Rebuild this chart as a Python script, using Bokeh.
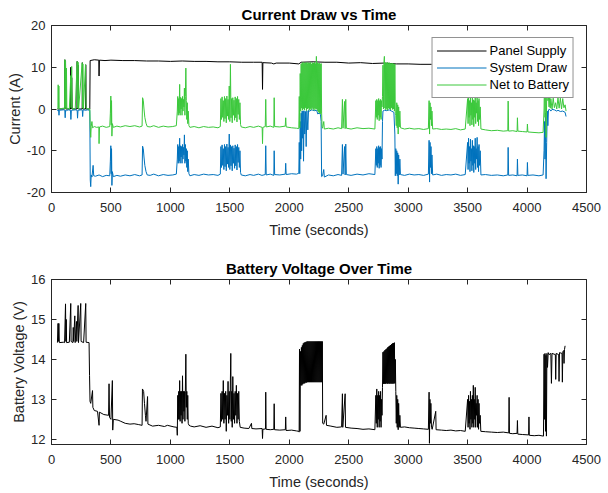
from bokeh.plotting import figure
from bokeh.layouts import column
from bokeh.models import Range1d, LinearAxis, FixedTicker, Legend, LegendItem
from bokeh.embed import file_html
from bokeh.resources import INLINE

FONT = "Liberation Sans"
INK = "#262626"

X_TICKS = [0, 500, 1000, 1500, 2000, 2500, 3000, 3500, 4000, 4500]
CURRENT_TICKS = [-20, -10, 0, 10, 20]
CURRENT_TICK_LABELS = ["-20", "-10", "0", "10", "20"]
VOLT_TICKS = [12, 13, 14, 15, 16]
VOLT_TICK_LABELS = ["12", "13", "14", "15", "16"]

SERIES_NAMES = ["Panel Supply", "System Draw", "Net to Battery"]
SERIES_COLORS = ["#000000", "#0072BD", "#3CC83C"]

# (time s, current A)
PANEL_SUPPLY = [
    (50, 0.0), (110, 0.0), (112, 11.8), (115, 0.0), (118, 11.5), (121, 0.0), (160, 0.0),
    (162, 10.0), (165, 0.0), (170, 7.5), (174, 0.0), (214, 0.0), (216, 11.4), (219, 0.0),
    (224, 10.5), (227, 0.0), (258, 0.0), (260, 11.1), (263, 0.0), (286, 0.0), (288, 10.6),
    (291, 0.0), (322, 0.0), (325, 11.6), (360, 11.8), (398, 11.7), (400, 7.9), (403, 11.7),
    (450, 11.6), (500, 11.7), (600, 11.6), (700, 11.6), (800, 11.5), (900, 11.5), (1000, 11.4),
    (1100, 11.5), (1200, 11.4), (1300, 11.4), (1400, 11.3), (1500, 11.3), (1600, 11.2),
    (1700, 11.2), (1772, 11.2), (1775, 4.7), (1778, 11.1), (1850, 11.0), (1870, 10.8),
    (1890, 11.0), (2000, 11.0), (2080, 10.8), (2100, 11.2), (2200, 11.3), (2300, 11.2),
    (2400, 11.2), (2500, 11.0), (2600, 11.1), (2700, 10.9), (2800, 11.0), (2900, 10.8),
    (3000, 10.8), (3100, 10.7), (3200, 10.7), (3400, 10.6), (3600, 10.6), (3800, 10.6),
    (4000, 10.5), (4200, 10.5), (4320, 10.5),
]

SYSTEM_DRAW = [
    (50, -0.3), (56, -0.5), (60, -0.2), (63, -1.5), (66, -0.3), (100, -0.2), (112, -0.3),
    (115, -2.1), (118, -0.3), (126, -0.4), (140, -0.2), (160, -0.3), (163, -2.5), (167, -0.3),
    (200, -0.2), (216, -0.3), (219, -2.2), (223, -0.3), (250, -0.2), (259, -0.3), (262, -1.8),
    (266, -0.2), (290, -0.3), (300, -0.2), (322, -0.3),
    (326, -17.0), (330, -18.6), (334, -15.8), (340, -16.3), (350, -13.5), (355, -16.0),
    (370, -16.1), (400, -15.8), (430, -16.2), (460, -15.9), (490, -16.0),
    (495, -12.5), (499, -8.8), (502, -15.5), (505, -9.5), (508, -18.3), (512, -15.0),
    (520, -16.2), (550, -15.9), (580, -16.1), (620, -15.8), (660, -16.0), (700, -15.7),
    (740, -16.0), (762, -15.8), (766, -8.9), (772, -9.5), (778, -11.5), (785, -13.5),
    (795, -15.0), (805, -15.8), (830, -15.9), (860, -15.6), (900, -16.0), (940, -15.7),
    (980, -15.9), (1020, -15.8), (1050, -15.6),
    (1058, -12.0), (1062, -8.5), (1066, -13.0), (1070, -9.0), (1074, -12.5), (1078, -7.0),
    (1082, -13.0), (1086, -8.8), (1090, -11.5), (1094, -9.0), (1098, -13.0), (1102, -8.5),
    (1106, -12.0), (1110, -9.2), (1114, -11.0), (1118, -6.2), (1122, -13.0), (1126, -8.5),
    (1130, -12.5), (1134, -9.5), (1138, -14.0), (1142, -10.0), (1146, -15.0), (1150, -12.0),
    (1156, -15.5), (1164, -16.0),
    (1200, -15.7), (1240, -15.9), (1280, -15.6), (1320, -15.8), (1360, -15.7), (1400, -15.9),
    (1420, -15.6),
    (1425, -9.0), (1430, -14.0), (1435, -8.6), (1440, -13.5), (1445, -9.5), (1450, -14.5),
    (1455, -8.5), (1460, -13.8), (1465, -9.0), (1470, -14.8), (1475, -8.4), (1480, -13.2),
    (1485, -9.2), (1490, -14.0), (1495, -6.0), (1500, -14.5), (1505, -8.6), (1510, -13.6),
    (1515, -9.0), (1520, -14.8), (1525, -8.8), (1530, -13.0), (1535, -9.4), (1540, -14.2),
    (1545, -8.6), (1550, -13.6), (1555, -9.0), (1560, -14.6), (1565, -8.5), (1570, -12.8),
    (1575, -9.2), (1580, -14.0), (1585, -10.0), (1590, -15.2), (1596, -15.8),
    (1630, -16.0), (1670, -15.7), (1700, -15.9), (1740, -15.6), (1770, -15.9), (1798, -15.7),
    (1802, -8.8), (1806, -15.8), (1840, -15.6), (1870, -15.9), (1873, -10.0), (1877, -15.7),
    (1920, -15.8), (1966, -15.6), (1970, -13.0), (1974, -15.7), (2020, -15.5), (2060, -15.6),
    (2080, -15.4),
    (2084, -8.0), (2088, -15.5), (2092, -3.0), (2096, -12.0), (2100, -1.0), (2104, -10.0),
    (2108, -0.5), (2112, -7.0), (2116, -0.5), (2120, -12.5), (2124, -0.4), (2130, -6.0),
    (2136, -0.6), (2142, -9.0), (2148, -0.4), (2156, -5.0), (2162, -0.3), (2170, -0.5),
    (2190, -0.2), (2210, -0.4), (2230, -0.3), (2240, -1.2), (2250, -1.0), (2262, -1.3),
    (2268, -3.0), (2272, -16.2),
    (2280, -16.0), (2290, -14.5), (2295, -16.3), (2330, -15.8), (2370, -16.0), (2410, -15.7),
    (2440, -15.9), (2447, -8.5), (2452, -15.6), (2465, -9.0), (2470, -15.8), (2475, -8.4),
    (2480, -15.7), (2520, -15.9), (2570, -15.6), (2620, -15.8), (2670, -15.5), (2720, -15.7),
    (2728, -9.5), (2732, -13.5), (2736, -9.0), (2740, -14.0), (2744, -9.5), (2748, -13.0),
    (2752, -8.8), (2756, -14.2), (2760, -9.2), (2764, -13.5), (2768, -9.0), (2772, -14.0),
    (2776, -9.5), (2780, -12.0),
    (2784, -3.0), (2788, -0.5), (2800, -0.3), (2820, -0.4), (2840, -0.2), (2860, -0.5),
    (2880, -0.8), (2888, -6.0), (2892, -16.0),
    (2896, -9.5), (2900, -15.5), (2904, -10.0), (2908, -16.0), (2912, -10.5), (2916, -18.0),
    (2920, -11.0), (2925, -15.8), (2930, -12.0), (2935, -15.7),
    (2970, -15.9), (3010, -15.6), (3050, -15.8), (3090, -15.7), (3130, -15.9), (3170, -15.6),
    (3176, -7.5), (3180, -17.5), (3184, -8.0), (3188, -14.0), (3192, -9.0), (3196, -15.5),
    (3200, -11.0), (3206, -15.8), (3240, -15.6), (3280, -15.9), (3320, -15.7), (3360, -15.8),
    (3400, -15.6), (3440, -15.9), (3480, -15.7),
    (3500, -8.0), (3504, -14.5), (3508, -7.0), (3512, -13.0), (3516, -9.0), (3520, -15.0),
    (3524, -7.2), (3528, -12.5), (3532, -9.5), (3536, -14.8), (3540, -7.5), (3544, -13.5),
    (3548, -8.8), (3552, -15.2), (3556, -9.0), (3560, -13.0), (3564, -7.0), (3568, -14.5),
    (3572, -9.5), (3576, -12.0), (3580, -6.8), (3584, -14.0), (3588, -9.0), (3592, -15.0),
    (3596, -8.5), (3600, -13.5), (3606, -10.0), (3612, -15.8),
    (3650, -15.7), (3700, -15.9), (3750, -15.8), (3800, -16.0), (3838, -15.8), (3841, -9.2),
    (3845, -15.9), (3880, -15.8), (3916, -16.0), (3919, -12.0), (3923, -15.9), (3960, -15.8),
    (4000, -16.0), (4003, -12.8), (4007, -15.9), (4050, -15.8), (4100, -16.0), (4135, -15.8),
    (4143, -10.0), (4147, -3.0), (4151, -12.0), (4155, -1.0), (4160, -16.7), (4165, -8.0),
    (4170, -0.5), (4175, -4.0), (4180, -0.2), (4190, -0.1), (4200, -0.5), (4210, -0.1),
    (4230, -0.2), (4250, -0.5), (4260, -0.3), (4280, -0.6), (4300, -0.5), (4320, -0.8),
    (4328, -1.8),
]

NET_TO_BATTERY = [
    (50, 0.0), (54, 0.2), (56, 5.8), (59, 0.3), (62, 5.5), (65, 0.0), (100, 0.2), (110, 0.0),
    (112, 11.8), (115, 0.5), (118, 11.5), (121, 0.0), (126, 9.8), (129, 0.2), (150, 0.0),
    (162, 8.0), (165, 0.3), (170, 10.2), (174, 0.0), (200, 0.1), (216, 11.4), (219, 0.2),
    (224, 11.2), (228, 0.0), (258, 11.1), (261, 0.3), (264, 10.8), (268, 0.0), (286, 10.6),
    (290, 0.2), (310, 0.0), (322, 0.1),
    (326, -4.5), (330, -6.8), (334, -4.2), (340, -3.0), (345, -4.5), (360, -4.2), (380, -4.4),
    (398, -4.3), (400, -8.3), (404, -4.3), (430, -4.1), (460, -4.4), (490, -4.2),
    (495, -1.0), (499, 3.1), (502, -3.8), (505, 2.0), (508, -6.5), (512, -3.5), (520, -4.4),
    (550, -4.1), (580, -4.3), (620, -4.0), (660, -4.2), (700, -4.0), (740, -4.3), (762, -4.1),
    (766, 2.7), (772, 2.1), (778, 0.0), (785, -2.0), (795, -3.4), (805, -4.2), (830, -4.3),
    (860, -4.0), (900, -4.4), (940, -4.1), (980, -4.3), (1020, -4.2), (1050, -4.0),
    (1058, -0.5), (1062, 3.0), (1066, -1.5), (1070, 2.5), (1074, -1.0), (1078, 5.9),
    (1082, -1.5), (1086, 2.8), (1090, 0.0), (1094, 2.5), (1098, -1.5), (1102, 3.0),
    (1106, -0.5), (1110, 2.3), (1114, 0.5), (1118, 5.0), (1122, -1.5), (1126, 3.0),
    (1130, 9.8), (1134, 2.0), (1138, -2.5), (1142, 1.5), (1146, -3.5), (1150, -0.5),
    (1156, -4.0), (1164, -4.4),
    (1200, -4.2), (1240, -4.5), (1280, -4.2), (1320, -4.4), (1360, -4.3), (1400, -4.5),
    (1420, -4.2),
    (1425, 2.5), (1430, -2.5), (1435, 2.9), (1440, -2.0), (1445, 2.0), (1450, -3.0),
    (1455, 3.0), (1460, -2.3), (1465, 2.5), (1470, -3.3), (1475, 3.1), (1480, -1.7),
    (1485, 2.3), (1490, -2.5), (1495, 5.5), (1500, -3.0), (1505, 10.7), (1510, -2.1),
    (1515, 2.5), (1520, -3.3), (1525, 2.7), (1530, -1.5), (1535, 2.1), (1540, -2.7),
    (1545, 2.9), (1550, -2.1), (1555, 2.5), (1560, -3.1), (1565, 3.0), (1570, -1.3),
    (1575, 2.3), (1580, -2.5), (1585, 1.5), (1590, -3.7), (1596, -4.3),
    (1630, -4.5), (1670, -4.2), (1700, -4.4), (1740, -4.1), (1772, -4.4), (1775, -8.3),
    (1778, -4.4), (1798, -4.2), (1802, 2.3), (1806, -4.3), (1840, -4.1), (1870, -4.4),
    (1873, 2.7), (1877, -4.2), (1920, -4.3), (1966, -4.1), (1970, -2.1), (1974, -4.3),
    (2020, -4.5), (2060, -4.6), (2080, -4.7),
    (2084, 3.0), (2088, -4.5), (2092, 8.5), (2096, -0.5), (2100, 10.8), (2104, 0.2),
    (2108, 11.0), (2112, -0.3), (2116, 11.2), (2120, 0.1), (2124, 10.9), (2128, -0.2),
    (2132, 11.1), (2136, 0.3), (2140, 11.0), (2144, -0.4), (2148, 11.2), (2152, 0.0),
    (2156, 10.9), (2160, 0.2), (2164, 11.1), (2168, -0.3), (2172, 11.0), (2176, 0.1),
    (2180, 11.2), (2184, -0.2), (2188, 10.8), (2192, 0.3), (2196, 11.1), (2200, 0.0),
    (2204, 11.0), (2208, -0.3), (2212, 11.2), (2216, 0.2), (2220, 10.9), (2224, -0.1),
    (2228, 12.6), (2232, 0.0), (2236, 11.1), (2240, -0.5), (2244, 10.9), (2248, -0.8),
    (2252, 11.0), (2256, -1.0), (2260, 10.8), (2264, -1.2), (2268, 10.9), (2272, -1.0),
    (2276, -4.2),
    (2280, -4.6), (2290, -3.0), (2295, -4.8), (2330, -4.6), (2370, -4.8), (2410, -4.5),
    (2440, -4.7), (2447, 2.3), (2452, -4.6), (2465, 1.8), (2470, -4.7), (2475, 2.3),
    (2480, -4.6), (2520, -4.8), (2570, -4.5), (2620, -4.7), (2670, -4.6), (2720, -4.8),
    (2728, 2.0), (2732, -2.0), (2736, 2.3), (2740, -2.5), (2744, 2.0), (2748, -1.5),
    (2752, 2.5), (2756, -2.8), (2760, 2.0), (2764, -2.0), (2768, 2.3), (2772, -2.5),
    (2776, 2.0), (2780, 0.5),
    (2784, 3.0), (2788, 10.5), (2792, 0.0), (2796, 11.0), (2800, 12.6), (2804, 0.2),
    (2808, 11.1), (2812, -0.2), (2816, 11.0), (2820, 0.1), (2824, 11.2), (2828, -0.3),
    (2832, 10.9), (2836, 0.2), (2840, 11.1), (2844, 0.0), (2848, 11.0), (2852, -0.2),
    (2856, 10.8), (2860, 0.3), (2864, 11.0), (2868, -0.1), (2872, 10.9), (2876, 0.0),
    (2880, 10.7), (2884, -0.5), (2888, 10.8), (2892, -1.0),
    (2896, -1.5), (2900, -4.0), (2904, 1.5), (2908, -4.5), (2912, 1.0), (2916, -6.0),
    (2920, 0.5), (2925, -4.3), (2930, -0.5), (2935, -4.5),
    (2970, -4.8), (3010, -4.6), (3050, -4.8), (3090, -4.7), (3130, -4.9), (3170, -4.7),
    (3176, 2.0), (3180, -6.0), (3184, 1.5), (3188, -2.5), (3192, 0.5), (3196, -4.0),
    (3200, -0.5), (3206, -4.8), (3240, -4.7), (3280, -4.9), (3320, -4.8), (3360, -4.9),
    (3400, -4.7), (3440, -5.0), (3480, -4.8),
    (3500, 2.5), (3504, -3.5), (3508, 3.0), (3512, -2.0), (3516, 2.0), (3520, -4.0),
    (3524, 3.0), (3528, -1.5), (3532, 1.5), (3536, -3.8), (3540, 2.8), (3544, -2.5),
    (3548, 2.2), (3552, -4.2), (3556, 2.0), (3560, -2.0), (3564, 3.0), (3568, -3.5),
    (3572, 1.5), (3576, -1.0), (3580, 2.8), (3584, -3.0), (3588, 2.0), (3592, -4.0),
    (3596, 2.5), (3600, -2.5), (3606, 0.5), (3612, -4.8),
    (3650, -5.0), (3700, -5.2), (3750, -5.1), (3800, -5.3), (3838, -5.2), (3841, 1.9),
    (3845, -5.3), (3880, -5.2), (3916, -5.4), (3919, -2.1), (3923, -5.3), (3960, -5.4),
    (4000, -5.5), (4003, -3.6), (4007, -5.5), (4050, -5.6), (4100, -5.7), (4135, -5.6),
    (4143, 0.0), (4147, 8.0), (4151, -2.0), (4155, 10.0), (4160, -6.8), (4165, 3.0),
    (4170, 11.0), (4175, 2.0), (4180, 3.0), (4185, 0.5), (4190, 2.8), (4195, 0.2),
    (4200, 2.5), (4210, 0.0), (4220, 2.6), (4230, 0.3), (4240, 1.5), (4250, 0.0),
    (4260, 2.7), (4270, 0.2), (4280, 2.6), (4290, 0.0), (4300, 2.5), (4310, 0.3),
    (4320, 1.0), (4328, -0.5),
]

# (time s, volts)
BATTERY_VOLTAGE = [
    (50, 14.42), (55, 14.9), (58, 14.45), (62, 14.9), (66, 14.42), (100, 14.43), (110, 14.42),
    (118, 15.39), (121, 14.45), (124, 15.0), (127, 14.42), (150, 14.43), (162, 15.4),
    (165, 14.45), (180, 14.42), (183, 14.8), (186, 14.45), (196, 15.09), (199, 14.42),
    (210, 14.95), (213, 14.45), (224, 15.35), (227, 14.42), (246, 15.4), (249, 14.45),
    (270, 14.42), (288, 15.4), (291, 14.43), (316, 14.42),
    (320, 13.6), (324, 12.95), (330, 12.9), (345, 13.22), (348, 12.8), (360, 12.72),
    (387, 12.7), (400, 12.35), (403, 12.68), (440, 12.62), (480, 12.6), (484, 13.39),
    (488, 12.55), (500, 12.5), (512, 13.47), (515, 12.23), (520, 12.5), (560, 12.48),
    (583, 12.45), (620, 12.4), (660, 12.38), (695, 12.39), (730, 12.37), (762, 12.35),
    (765, 13.26), (775, 13.2), (782, 12.9), (790, 12.6), (795, 12.45), (808, 13.07),
    (811, 12.38), (850, 12.33), (900, 12.35), (950, 12.32), (975, 12.35), (1030, 12.31),
    (1055, 12.3),
    (1058, 12.1), (1062, 13.1), (1066, 12.5), (1070, 13.2), (1074, 12.5), (1078, 13.47),
    (1082, 12.45), (1086, 13.2), (1090, 12.6), (1094, 13.2), (1098, 12.4), (1102, 13.59),
    (1106, 12.5), (1110, 13.2), (1114, 12.7), (1118, 13.2), (1122, 12.45), (1126, 13.2),
    (1130, 14.13), (1134, 12.8), (1138, 13.2), (1142, 12.5), (1146, 13.1), (1150, 12.4),
    (1157, 12.35),
    (1170, 12.33), (1200, 12.31), (1250, 12.34), (1300, 12.3), (1350, 12.33), (1400, 12.29),
    (1420, 12.31),
    (1425, 13.15), (1430, 12.45), (1435, 13.2), (1440, 12.5), (1445, 13.47), (1450, 12.4),
    (1455, 13.15), (1460, 12.5), (1465, 13.2), (1470, 12.2), (1475, 13.1), (1480, 12.6),
    (1485, 13.45), (1490, 12.4), (1495, 13.2), (1500, 12.5), (1508, 14.15), (1512, 12.45),
    (1516, 13.2), (1520, 12.3), (1525, 13.57), (1530, 12.5), (1535, 13.15), (1540, 12.4),
    (1545, 13.2), (1550, 12.6), (1555, 13.35), (1560, 12.4), (1565, 13.15), (1570, 12.5),
    (1575, 13.2), (1580, 12.45), (1587, 12.3),
    (1620, 12.28), (1660, 12.27), (1682, 12.4), (1685, 12.27), (1720, 12.26), (1772, 12.27),
    (1775, 12.02), (1778, 12.25), (1800, 12.26), (1802, 13.18), (1805, 12.25), (1840, 12.24),
    (1870, 12.25), (1873, 12.89), (1876, 12.24), (1920, 12.23), (1967, 12.24), (1970, 12.56),
    (1973, 12.22), (2020, 12.23), (2060, 12.21), (2080, 12.2),
    (2083, 12.18), (2086, 14.26), (2090, 12.2), (2094, 14.2), (2098, 13.35), (2102, 14.3),
    (2106, 13.35), (2110, 14.35), (2114, 13.38), (2118, 14.4), (2122, 13.4), (2126, 14.42),
    (2130, 13.4), (2134, 14.43), (2138, 13.42), (2142, 14.44), (2146, 13.42), (2150, 14.45),
    (2154, 13.43), (2158, 14.45), (2162, 13.43), (2166, 14.45), (2170, 13.43), (2174, 14.45),
    (2178, 13.43), (2182, 14.45), (2186, 13.43), (2190, 14.45), (2194, 13.43), (2198, 14.45),
    (2202, 13.43), (2206, 14.45), (2210, 13.43), (2214, 14.45), (2218, 13.43), (2222, 14.45),
    (2226, 13.43), (2230, 14.45), (2234, 13.43), (2238, 14.45), (2242, 13.43), (2246, 14.45),
    (2250, 13.43), (2254, 14.45), (2258, 13.43), (2262, 14.45), (2266, 13.43), (2270, 14.45),
    (2274, 13.43), (2278, 14.45), (2281, 12.4),
    (2290, 12.38), (2310, 12.6), (2313, 12.35), (2350, 12.33), (2400, 12.3), (2440, 12.31),
    (2447, 13.14), (2450, 12.3), (2470, 13.14), (2473, 12.3), (2520, 12.28), (2570, 12.27),
    (2620, 12.25), (2670, 12.26), (2720, 12.24),
    (2728, 13.1), (2732, 12.4), (2736, 13.26), (2740, 12.3), (2744, 13.1), (2748, 12.5),
    (2752, 13.2), (2756, 12.3), (2760, 13.1), (2764, 12.45), (2768, 13.2), (2772, 12.3),
    (2776, 13.0), (2780, 12.6),
    (2784, 13.3), (2788, 14.18), (2792, 13.39), (2796, 14.2), (2800, 13.39), (2804, 14.23),
    (2808, 13.39), (2812, 14.25), (2816, 13.4), (2820, 14.27), (2824, 13.39), (2828, 14.3),
    (2832, 13.4), (2836, 14.32), (2840, 13.39), (2844, 14.34), (2848, 13.4), (2852, 14.36),
    (2856, 13.39), (2860, 14.38), (2864, 13.4), (2868, 14.4), (2872, 13.39), (2876, 14.41),
    (2880, 13.4), (2884, 14.42), (2888, 13.4), (2892, 14.0),
    (2896, 13.2), (2900, 12.4), (2904, 13.1), (2908, 12.3), (2912, 13.0), (2916, 12.24),
    (2920, 12.9), (2925, 12.3), (2930, 12.6), (2935, 12.3),
    (2970, 12.31), (3010, 12.29), (3050, 12.28), (3090, 12.27), (3130, 12.26), (3170, 12.25),
    (3176, 13.18), (3179, 11.9), (3183, 13.0), (3187, 12.4), (3191, 12.9), (3196, 12.3),
    (3202, 12.25), (3232, 12.7), (3235, 12.24), (3280, 12.23), (3320, 12.22), (3360, 12.23),
    (3400, 12.21), (3440, 12.22), (3480, 12.2),
    (3500, 13.0), (3504, 12.3), (3508, 13.1), (3512, 12.4), (3516, 12.95), (3520, 12.25),
    (3524, 13.2), (3528, 12.5), (3532, 13.0), (3536, 12.3), (3540, 13.1), (3544, 12.4),
    (3548, 13.35), (3552, 12.3), (3556, 13.0), (3560, 12.5), (3564, 13.3), (3568, 12.3),
    (3572, 12.9), (3576, 12.6), (3580, 13.1), (3584, 12.3), (3588, 13.0), (3592, 12.25),
    (3596, 12.9), (3600, 12.4), (3606, 12.6), (3611, 12.2),
    (3650, 12.19), (3700, 12.18), (3750, 12.17), (3800, 12.18), (3846, 12.16), (3849, 13.05),
    (3852, 12.15), (3880, 12.14), (3916, 12.15), (3919, 12.47), (3922, 12.13), (3960, 12.12),
    (4013, 12.11), (4016, 12.56), (4019, 12.1), (4060, 12.09), (4100, 12.1), (4138, 12.08),
    (4143, 14.13), (4147, 12.5), (4151, 14.15), (4155, 12.2), (4159, 14.1), (4163, 12.08),
    (4167, 14.15), (4172, 13.8), (4178, 14.17), (4185, 14.12), (4200, 14.15), (4205, 13.4),
    (4210, 14.15), (4238, 14.12), (4241, 13.5), (4245, 14.15), (4266, 14.12), (4269, 13.45),
    (4273, 14.17), (4294, 14.15), (4297, 13.43), (4301, 14.2), (4308, 14.22), (4311, 13.9),
    (4315, 14.25), (4320, 14.34),
]


def unzip(points):
    return [t for t, _ in points], [v for _, v in points]


def dress(p, y_ticks, y_labels, y_label):
    """MATLAB-like look: boxed axes with inward ticks on all sides."""
    p.title.text_font = FONT
    p.title.text_font_size = "15px"
    p.title.text_font_style = "bold"
    p.title.text_color = "#000000"
    p.title.align = "center"
    p.title.standoff = 6
    p.xgrid.visible = False
    p.ygrid.visible = False
    p.outline_line_color = INK
    p.outline_line_width = 1
    p.outline_line_alpha = 1

    p.xaxis.ticker = FixedTicker(ticks=X_TICKS)
    p.yaxis.ticker = FixedTicker(ticks=y_ticks)
    p.yaxis.major_label_overrides = dict(zip(y_ticks, y_labels))
    p.xaxis.axis_label = "Time (seconds)"
    p.yaxis.axis_label = y_label
    for ax in (p.xaxis, p.yaxis):
        ax.axis_line_color = INK
        ax.major_tick_line_color = INK
        ax.major_tick_in = 5
        ax.major_tick_out = 0
        ax.minor_tick_line_color = None
        ax.major_label_text_font = FONT
        ax.major_label_text_font_size = "13px"
        ax.major_label_text_color = INK
        ax.axis_label_text_font = FONT
        ax.axis_label_text_font_size = "14.5px"
        ax.axis_label_text_font_style = "normal"
        ax.axis_label_text_color = INK
    p.xaxis.major_label_standoff = 10
    p.xaxis.axis_label_standoff = 7
    p.yaxis.major_label_standoff = 6
    p.yaxis.axis_label_standoff = 1

    # tick marks only (no labels) on the top and right edges of the box
    for side, ticks in (("above", X_TICKS), ("right", y_ticks)):
        extra = LinearAxis(ticker=FixedTicker(ticks=ticks), axis_line_color=None,
                           major_tick_line_color=INK, major_tick_in=5, major_tick_out=0,
                           minor_tick_line_color=None, major_label_text_font_size="1px",
                           major_label_text_color=None, major_label_standoff=0)
        p.add_layout(extra, side)


# top panel: currents
top = figure(width=604, height=254, title="Current Draw vs Time",
             x_range=Range1d(0, 4500), y_range=Range1d(-20, 20),
             output_backend="svg", toolbar_location=None,
             min_border_left=51, min_border_right=18, min_border_top=24, min_border_bottom=62)
dress(top, CURRENT_TICKS, CURRENT_TICK_LABELS, "Current (A)")

items = []
for name, color, series in zip(SERIES_NAMES, SERIES_COLORS,
                               [PANEL_SUPPLY, SYSTEM_DRAW, NET_TO_BATTERY]):
    t, a = unzip(series)
    r = top.line(t, a, line_color=color, line_width=1)
    items.append(LegendItem(label=name, renderers=[r]))

legend = Legend(items=items, location="top_right", margin=12, padding=4, spacing=0,
                glyph_width=50, glyph_height=17, label_height=17, label_standoff=3,
                label_text_font=FONT, label_text_font_size="13px", label_text_color="#000000",
                border_line_color=INK, border_line_width=1, background_fill_alpha=1)
top.add_layout(legend)

# bottom panel: battery voltage
bottom = figure(width=604, height=238, title="Battery Voltage Over Time",
                x_range=Range1d(0, 4500), y_range=Range1d(11.87, 16),
                output_backend="svg", toolbar_location=None,
                min_border_left=51, min_border_right=18, min_border_top=24, min_border_bottom=47)
dress(bottom, VOLT_TICKS, VOLT_TICK_LABELS, "Battery Voltage (V)")
t, v = unzip(BATTERY_VOLTAGE)
bottom.line(t, v, line_color="#000000", line_width=1)

page = column(top, bottom, spacing=0)
open("out.html", "w").write(file_html(page, INLINE))
